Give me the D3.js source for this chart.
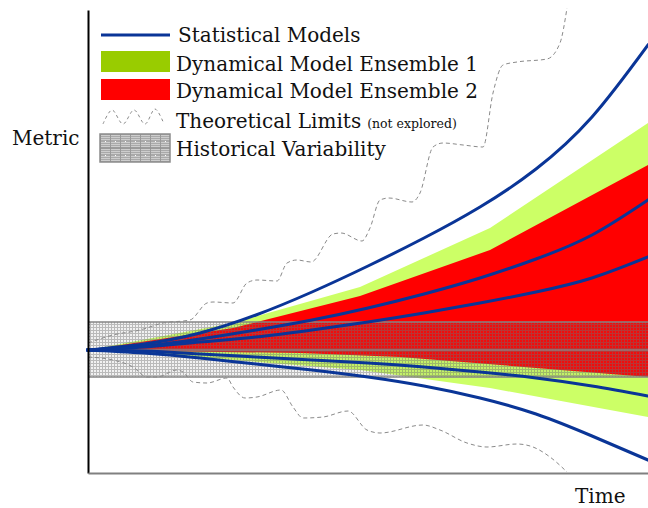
<!DOCTYPE html>
<html>
<head>
<meta charset="utf-8">
<script src="https://cdn.jsdelivr.net/npm/d3@7/dist/d3.min.js"></script>
<style>
  html, body { margin: 0; padding: 0; background: #fff; }
  svg { display: block; }
  text { font-family: "DejaVu Serif", serif; fill: #111; }
</style>
</head>
<body>
<svg id="chart" width="648" height="508"></svg>
<script>
// ---------------- DATA (arbitrary units) ----------------
const statTime = [0, 56, 112, 168, 224, 280, 336, 392, 448, 504, 560];
const statModel1 = [0, 6, 17, 35, 58, 84, 112, 143, 181, 233, 305];
const statModel2 = [0, 4, 11, 20, 30, 42, 56, 72, 91, 115, 150];
const statModel3 = [0, 3, 8, 13, 20, 28, 37, 47, 58, 72, 93];
const statModel4 = [0, -1, -4, -7, -10, -13, -17, -22, -28, -36, -46];
const statModel5 = [0, -3, -8, -14, -20, -27, -36, -48, -64, -86, -110];

const ens1Time = [0, 145, 272, 402, 560];
const ens1Upper = [0, 27, 63, 122, 227];
const ens1Lower = [0, -10, -20, -38, -67];

const ens2UpperTime = [0, 145, 272, 402, 560];
const ens2Upper = [0, 22, 54, 100, 185];
const ens2LowerTime = [0, 212, 312, 560];
const ens2Lower = [0, -3, -7, -27];

const histUpper = 28;
const histLower = -27;
const histMid = 0;

const theoUpperTime = [0, 25, 52, 75, 102, 119, 125, 145, 159, 169, 189, 199, 209, 223, 245, 253, 274, 282, 292, 301, 324, 332, 345, 355, 375, 395, 405, 415, 429, 459, 472, 479];
const theoUpper = [7, 15, 20, 27, 30, 47, 48, 47, 67, 70, 69, 87, 90, 88, 116, 117, 109, 122, 150, 152, 148, 157, 203, 207, 205, 203, 257, 285, 288, 291, 307, 342];
const theoLowerTime = [0, 25, 45, 59, 69, 89, 95, 105, 119, 139, 145, 157, 169, 193, 205, 215, 235, 260, 279, 292, 335, 352, 379, 399, 429, 445, 462, 479];
const theoLower = [-7, -10, -17, -27, -27, -20, -22, -32, -33, -28, -37, -48, -47, -40, -57, -68, -67, -61, -80, -83, -75, -80, -93, -97, -94, -97, -107, -122];

const legendLabels = ["Statistical Models", "Dynamical Model Ensemble 1", "Dynamical Model Ensemble 2", "Theoretical Limits", "Historical Variability"];
const legendNote = "(not explored)";
const yLabel = "Metric";
const xLabel = "Time";

// ---------------- STYLE ----------------
const blue = "#0a3597";
const greenChart = "#ccff66";
const greenLegend = "#99cc00";
const red = "#ff0000";
const dashGray = "#8a8a8a";

// ---------------- SCALES ----------------
const svg = d3.select("#chart");
const plotL = 88, plotR = 648, plotT = 10, plotB = 473;
const x = d3.scaleLinear().domain([0, 560]).range([plotL, plotR]);
const y = d3.scaleLinear().domain([-123, 340]).range([plotB, plotT]);

const defs = svg.append("defs");
defs.append("clipPath").attr("id", "plotclip")
  .append("rect").attr("x", plotL).attr("y", 0).attr("width", plotR - plotL).attr("height", plotB);
defs.append("clipPath").attr("id", "plotclip2")
  .append("rect").attr("x", plotL - 4).attr("y", 0).attr("width", plotR - plotL + 4).attr("height", plotB);

// fine grid pattern for historical variability
const pat = defs.append("pattern").attr("id", "histpat")
  .attr("patternUnits", "userSpaceOnUse").attr("width", 3).attr("height", 3);
pat.append("rect").attr("width", 3).attr("height", 3).attr("fill", "rgba(120,120,120,0.10)");
pat.append("rect").attr("x", 0).attr("y", 0).attr("width", 3).attr("height", 1).attr("fill", "rgba(110,110,110,0.42)");
pat.append("rect").attr("x", 0).attr("y", 1).attr("width", 1).attr("height", 2).attr("fill", "rgba(110,110,110,0.42)");

// legend swatch pattern
const lpat = defs.append("pattern").attr("id", "histleg")
  .attr("patternUnits", "userSpaceOnUse").attr("width", 10).attr("height", 14)
  .attr("x", 100).attr("y", 134);
lpat.append("rect").attr("width", 10).attr("height", 14).attr("fill", "#a9a9a9");
[1, 3, 5, 8, 10, 12].forEach(v => lpat.append("rect").attr("x", 0).attr("y", v).attr("width", 10).attr("height", 1).attr("fill", "#cdcdcd"));
lpat.append("rect").attr("x", 0).attr("y", 0).attr("width", 1).attr("height", 14).attr("fill", "#9a9a9a");
lpat.append("rect").attr("x", 5).attr("y", 7).attr("width", 1).attr("height", 1).attr("fill", "#ffffff");

const g = svg.append("g").attr("clip-path", "url(#plotclip)");

// ---------------- BANDS ----------------
function bandPoly(tU, vU, tL, vL) {
  const up = tU.map((t, i) => [x(t), y(vU[i])]);
  const lo = tL.map((t, i) => [x(t), y(vL[i])]).reverse();
  return "M" + up.concat(lo).map(p => p.join(",")).join("L") + "Z";
}
g.append("path").attr("d", bandPoly(ens1Time, ens1Upper, ens1Time, ens1Lower)).attr("fill", greenChart);
g.append("path").attr("d", bandPoly(ens2UpperTime, ens2Upper, ens2LowerTime, ens2Lower)).attr("fill", red);

// ---------------- STATISTICAL MODELS ----------------
const line = d3.line().x(d => x(d[0])).y(d => y(d[1])).curve(d3.curveNatural);
[statModel1, statModel2, statModel3, statModel4, statModel5].forEach(s => {
  svg.append("path").attr("d", line(statTime.map((t, i) => [t, s[i]])))
    .attr("fill", "none").attr("stroke", blue).attr("stroke-width", 3).attr("stroke-linecap", "square")
    .attr("clip-path", "url(#plotclip2)");
});

// ---------------- HISTORICAL VARIABILITY ----------------
g.append("rect").attr("x", x(0)).attr("y", y(histUpper)).attr("width", x(560) - x(0))
  .attr("height", y(histLower) - y(histUpper)).attr("fill", "url(#histpat)");
[histUpper, histMid, histLower].forEach(v => {
  g.append("line").attr("x1", x(0)).attr("x2", x(560)).attr("y1", y(v)).attr("y2", y(v))
    .attr("stroke", "#858585").attr("stroke-width", 1.5);
});

// ---------------- THEORETICAL LIMITS ----------------
const dline = d3.line().x(d => x(d[0])).y(d => y(d[1])).curve(d3.curveMonotoneX);
[[theoUpperTime, theoUpper], [theoLowerTime, theoLower]].forEach(([tt, vv]) => {
  g.append("path").attr("d", dline(tt.map((t, i) => [t, vv[i]])))
    .attr("fill", "none").attr("stroke", dashGray).attr("stroke-width", 1).attr("stroke-dasharray", "4,3");
});

// ---------------- AXES ----------------
svg.append("g").attr("transform", `translate(${plotL},0)`)
  .call(d3.axisLeft(y).tickValues([]).tickSizeOuter(0))
  .call(a => a.select(".domain").attr("stroke", "#000").attr("stroke-width", 2));
svg.append("g").attr("transform", `translate(0,${plotB})`)
  .call(d3.axisBottom(x).tickValues([]).tickSizeOuter(0))
  .call(a => a.select(".domain").attr("stroke", "#808080").attr("stroke-width", 2));

svg.append("text").attr("x", 12).attr("y", 145).attr("font-size", 20).text(yLabel);
svg.append("text").attr("x", 575).attr("y", 503).attr("font-size", 20).text(xLabel);

// ---------------- LEGEND ----------------
const lg = svg.append("g");
lg.append("line").attr("x1", 101).attr("x2", 170).attr("y1", 35).attr("y2", 35)
  .attr("stroke", blue).attr("stroke-width", 3);
lg.append("rect").attr("x", 101).attr("y", 51).attr("width", 69).attr("height", 21).attr("fill", greenLegend);
lg.append("rect").attr("x", 101).attr("y", 79).attr("width", 69).attr("height", 21).attr("fill", red);
const wave = [[103, 124], [112, 110], [123, 124], [134, 110], [145, 124], [155, 109], [164, 124]];
lg.append("path").attr("d", d3.line().curve(d3.curveCatmullRom)(wave))
  .attr("fill", "none").attr("stroke", dashGray).attr("stroke-width", 1).attr("stroke-dasharray", "3,3");
lg.append("rect").attr("x", 100).attr("y", 134).attr("width", 70).attr("height", 28)
  .attr("fill", "url(#histleg)").attr("stroke", "#8c8c8c").attr("stroke-width", 1.5);
lg.append("line").attr("x1", 100).attr("x2", 170).attr("y1", 148).attr("y2", 148).attr("stroke", "#8c8c8c").attr("stroke-width", 1);

const lx = [178, 176, 176, 176, 176];
const ly = [42, 71, 98, 128, 156];
legendLabels.forEach((s, i) => {
  const t = lg.append("text").attr("x", lx[i]).attr("y", ly[i]).attr("font-size", 20).text(s);
  if (i === 3) {
    t.append("tspan").attr("font-size", 12.5).attr("dx", 6).text(legendNote);
  }
});
</script>
</body>
</html>
